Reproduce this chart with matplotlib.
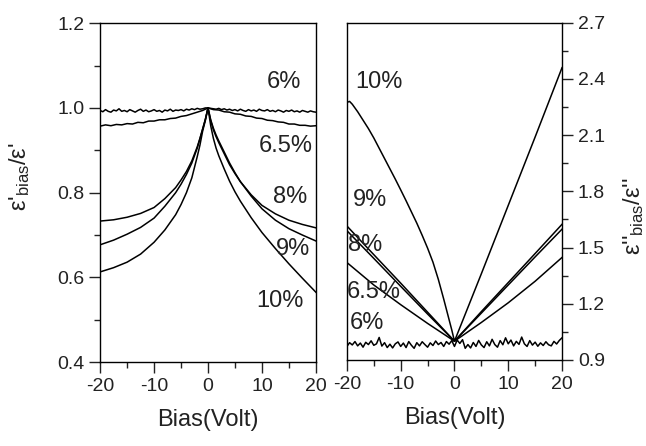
import matplotlib
matplotlib.use("Agg")
import matplotlib.pyplot as plt
from matplotlib.ticker import MultipleLocator

plt.rcParams["font.family"] = ["Liberation Sans", "DejaVu Sans"]
plt.rcParams["mathtext.fontset"] = "custom"
plt.rcParams["mathtext.rm"] = "Liberation Sans"
plt.rcParams["mathtext.it"] = "Liberation Sans:italic"
plt.rcParams["axes.unicode_minus"] = False

# ---- real part, eps'_bias / eps' ----
bias_fine = [i * 0.5 - 20 for i in range(81)]
real_6 = [0.994, 0.991, 0.996, 0.992, 0.990, 0.995, 0.993, 0.998, 0.992, 0.994,
          0.991, 0.996, 0.993, 0.990, 0.994, 0.997, 0.992, 0.995, 0.991, 0.993,
          0.996, 0.992, 0.994, 0.990, 0.995, 0.993, 0.997, 0.992, 0.995, 0.994,
          0.996, 0.993, 0.997, 0.995, 0.998, 0.996, 0.999, 0.997, 0.998, 1.000,
          1.000, 0.999, 0.998, 0.997, 0.999, 0.996, 0.998, 0.995, 0.997, 0.994,
          0.996, 0.993, 0.997, 0.994, 0.992, 0.996, 0.993, 0.995, 0.992, 0.997,
          0.994, 0.993, 0.996, 0.992, 0.994, 0.991, 0.995, 0.993, 0.990, 0.994,
          0.992, 0.995, 0.991, 0.993, 0.990, 0.994, 0.992, 0.990, 0.993, 0.991, 0.990]

bias_1v = list(range(-20, 21))
real_65 = [0.957, 0.960, 0.958, 0.961, 0.960, 0.963, 0.962, 0.966, 0.965, 0.969,
           0.969, 0.972, 0.972, 0.975, 0.976, 0.980, 0.982, 0.986, 0.990, 0.994,
           1.000,
           0.996, 0.995, 0.991, 0.990, 0.986, 0.985, 0.981, 0.980, 0.976, 0.975,
           0.971, 0.970, 0.967, 0.966, 0.962, 0.962, 0.959, 0.959, 0.957, 0.958]

bias_real = [-20, -17.5, -15, -12.5, -10, -8, -6, -5, -4, -3, -2, -1.5, -1, -0.5, 0,
             0.5, 1, 1.5, 2, 3, 4, 5, 6, 8, 10, 12.5, 15, 17.5, 20]
real_8 = [0.733, 0.736, 0.742, 0.751, 0.765, 0.786, 0.812, 0.830, 0.850, 0.875,
          0.908, 0.928, 0.950, 0.972, 1.000,
          0.970, 0.948, 0.932, 0.918, 0.892, 0.866, 0.845, 0.826, 0.795, 0.770,
          0.750, 0.735, 0.725, 0.717]
real_9 = [0.677, 0.688, 0.702, 0.718, 0.740, 0.768, 0.800, 0.820, 0.843, 0.870,
          0.905, 0.927, 0.950, 0.973, 1.000,
          0.972, 0.952, 0.936, 0.922, 0.896, 0.870, 0.847, 0.826, 0.792, 0.762,
          0.735, 0.715, 0.700, 0.686]
real_10 = [0.613, 0.623, 0.636, 0.655, 0.683, 0.712, 0.748, 0.772, 0.800, 0.835,
           0.885, 0.912, 0.945, 0.970, 1.000,
           0.958, 0.928, 0.905, 0.887, 0.856, 0.827, 0.802, 0.780, 0.741, 0.706,
           0.668, 0.632, 0.598, 0.565]

# ---- imaginary part, eps''_bias / eps'' ----
imag_6 = [0.972, 0.992, 0.980, 0.998, 0.975, 0.990, 0.968, 0.994, 0.982, 1.002,
          0.978, 0.986, 1.020, 0.974, 0.992, 0.966, 0.984, 0.964, 0.986, 0.996,
          0.972, 0.990, 0.966, 0.998, 0.978, 0.962, 0.992, 0.975, 0.997, 0.982,
          0.968, 0.991, 0.977, 1.001, 0.982, 0.993, 0.972, 0.998, 0.984, 1.003,
          0.972, 1.006, 0.988, 1.008, 0.962, 0.982, 0.964, 0.993, 0.972, 1.004,
          0.980, 0.966, 0.997, 0.975, 1.010, 0.982, 0.968, 1.003, 0.981, 1.018,
          0.986, 1.006, 0.975, 0.999, 0.983, 1.022, 0.986, 0.972, 1.003, 0.979,
          0.995, 0.973, 0.991, 0.977, 0.997, 0.981, 0.975, 0.999, 0.985, 1.004, 1.018]

bias_coarse = [-20, -15, -10, -5, 0, 5, 10, 15, 20]
imag_65 = [1.420, 1.300, 1.195, 1.095, 1.000, 1.100, 1.205, 1.320, 1.447]
imag_8 = [1.590, 1.442, 1.293, 1.145, 1.000, 1.150, 1.300, 1.450, 1.598]
imag_9 = [1.615, 1.462, 1.310, 1.155, 1.000, 1.158, 1.313, 1.468, 1.624]

bias_imag10 = [-20, -19.5, -19, -18, -17, -16, -15, -14, -13, -12, -11, -10, -9,
               -8, -7, -6, -5, -4, -3, -2, -1, -0.5, 0, 5, 10, 15, 20]
imag_10 = [2.275, 2.280, 2.265, 2.225, 2.180, 2.135, 2.085, 2.030, 1.975, 1.920,
           1.865, 1.808, 1.750, 1.690, 1.630, 1.565, 1.497, 1.422, 1.330, 1.225,
           1.115, 1.060, 1.000, 1.360, 1.725, 2.090, 2.460]

# curve labels: (text, x, y)
real_labels = [("6%", 14.1, 1.061), ("6.5%", 14.4, 0.910), ("8%", 15.2, 0.789),
               ("9%", 15.7, 0.667), ("10%", 13.3, 0.544)]
imag_labels = [("10%", -14.0, 2.385), ("9%", -15.7, 1.756), ("8%", -16.6, 1.515),
               ("6.5%", -15.0, 1.265), ("6%", -16.3, 1.099)]

fig = plt.figure(figsize=(6.46, 4.46), dpi=100)
ax1 = fig.add_axes([0.155, 0.188, 0.334, 0.760])
ax2 = fig.add_axes([0.537, 0.193, 0.333, 0.756])

lw = 1.1
ax1.plot(bias_fine, real_6, color="black", lw=lw)
ax1.plot(bias_1v, real_65, color="black", lw=lw)
ax1.plot(bias_real, real_8, color="black", lw=lw)
ax1.plot(bias_real, real_9, color="black", lw=lw)
ax1.plot(bias_real, real_10, color="black", lw=lw)

ax2.plot(bias_fine, imag_6, color="black", lw=lw)
ax2.plot(bias_coarse, imag_65, color="black", lw=lw)
ax2.plot(bias_coarse, imag_8, color="black", lw=lw)
ax2.plot(bias_coarse, imag_9, color="black", lw=lw)
ax2.plot(bias_imag10, imag_10, color="black", lw=lw)

for txt, x, y in real_labels:
    ax1.text(x, y, txt, fontsize=17, ha="center", va="center", color="#222222")
for txt, x, y in imag_labels:
    ax2.text(x, y, txt, fontsize=17, ha="center", va="center", color="#222222")

ax1.set_xlim(-20, 20)
ax1.set_ylim(0.4, 1.2)
ax1.yaxis.set_major_locator(MultipleLocator(0.2))
ax1.yaxis.set_minor_locator(MultipleLocator(0.1))

ax2.set_xlim(-20, 20)
ax2.set_ylim(0.9, 2.7)
ax2.yaxis.set_major_locator(MultipleLocator(0.3))
ax2.yaxis.set_minor_locator(MultipleLocator(0.15))
ax2.yaxis.tick_right()

for ax in (ax1, ax2):
    ax.xaxis.set_major_locator(MultipleLocator(10))
    ax.xaxis.set_minor_locator(MultipleLocator(5))
    ax.tick_params(which="both", direction="out", top=False, labelsize=14,
                   width=1.0, colors="#222222")
    ax.tick_params(which="major", length=8)
    ax.tick_params(which="minor", length=4)
    for s in ax.spines.values():
        s.set_linewidth(1.0)
    ax.set_xlabel("Bias(Volt)", fontsize=17, labelpad=10, color="#222222")

ax1.tick_params(which="both", right=False)
ax2.tick_params(which="both", left=False, right=True)

fig.text(20 / 646, 1 - 177 / 446, r"ε'$_{\mathrm{bias}}$/ε'", fontsize=17,
         rotation=90, ha="center", va="center", color="#222222")
fig.text(634 / 646, 1 - 216 / 446, r"ε''$_{\mathrm{bias}}$/ε''", fontsize=17,
         rotation=90, ha="center", va="center", color="#222222")

fig.savefig("out.png", dpi=100)
